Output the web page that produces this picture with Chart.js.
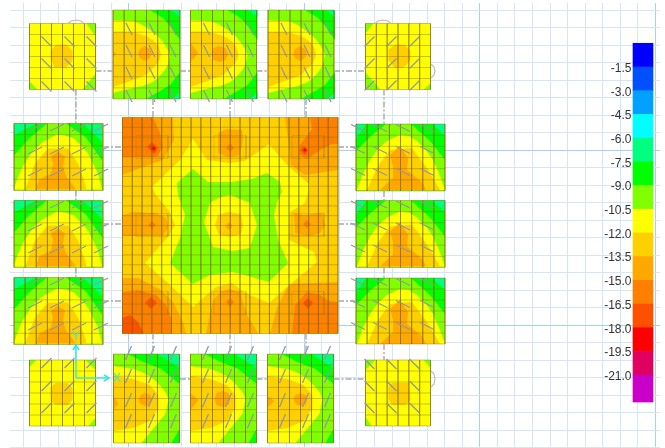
<!DOCTYPE html>
<html>
<head>
<meta charset="utf-8">
<title>Slab contour</title>
<script src="https://cdn.jsdelivr.net/npm/chart.js@4"></script>
<style>
  html, body { margin: 0; background: #fff; }
  #wrap { width: 665px; height: 448px; }
  canvas { filter: blur(0.4px); }
</style>
</head>
<body>
<div id="wrap"><canvas id="c"></canvas></div>
<script>
// legend
const levels = [-1.5, -3, -4.5, -6, -7.5, -9, -10.5, -12, -13.5, -15, -16.5, -18, -19.5, -21];
const bandEdges = [0, -1.5, -3, -4.5, -6, -7.5, -9, -10.5, -12, -13.5, -15, -16.5, -18, -19.5, -21, -22.7];
const bandColors = ['#0000ff', '#0050ff', '#00a0ff', '#00ffff', '#00ff80', '#00ff00', '#80ff00', '#ffff00',
  '#ffd000', '#ffa800', '#ff8000', '#ff5000', '#ff0000', '#e00060', '#c800c8'];

// contour values (middle of a band)
const CY = -6.75, GR = -8.25, LI = -9.75, YE = -11.25, GO = -12.75, AM = -14.25, OR = -15.75, RO = -17.25, RE = -18.75;

// slab strips along the top, outlines local to the panel corner
const topLayers = [
  [GR, [[37,0],[50,8],[58,17],[67,30],[67,0]]],
  [GR, [[67,62],[57,75],[47,81],[33,89],[67,89]]],
  [CY, [[58,0],[67,0],[67,7]]],
  [CY, [[60,89],[67,89],[67,82]]],
  [YE, [[0,10],[20,11],[28,14],[37,20],[44,25],[50,32],[54,38],[57,45],[55,54],[52,60],[46,67],[40,72],[30,76],[20,78],[0,83]]],
  [GO, [[0,22],[20,22],[33,26],[41,31],[46,37],[48,45],[46,51],[43,55],[33,65],[20,70],[0,77]]]
];
const topPanels = [
  { at: [113, 10], size: [67, 89], spots: [[AM, [[27,39],[32,36],[37,39],[39,44],[36,49],[32,51],[27,48],[25,44]]], [AM, [[0,41],[3,44],[0,47]]]] },
  { at: [190.5, 10], size: [66, 89], spots: [[AM, [[23,38],[29,36],[35,38],[38,44],[35,50],[29,52],[23,50],[21,44]]], [AM, [[0,33],[8,43],[0,52]]]] },
  { at: [268, 10], size: [66, 89], spots: [[AM, [[27,39],[32,36],[37,39],[39,44],[36,49],[32,51],[27,48],[25,44]]]] }
];

const bottomLayers = [
  [GR, [[14,0],[30,8],[48,15],[66,30],[66,0]]],
  [GR, [[58,89],[66,89],[66,75]]],
  [CY, [[44,0],[66,0],[66,14]]],
  [YE, [[0,12],[20,15],[28,18],[36,22],[42,27],[48,33],[52,38],[55,45],[52,60],[42,72],[28,89],[0,89]]],
  [GO, [[0,22],[20,25],[36,31],[45,41],[45,54],[36,67],[20,74],[0,77]]]
];
const bottomPanels = [
  { at: [113.5, 354], size: [66, 89], spots: [[AM, [[27,41],[32,39],[37,41],[39,46],[36,51],[32,52],[27,50],[25,46]]], [AM, [[0,42],[5,50],[0,55]]]] },
  { at: [190.5, 354], size: [66, 89], spots: [[AM, [[26,39],[32,37],[38,39],[40,45],[38,51],[32,53],[26,51],[24,45]]], [AM, [[0,39],[8,46],[0,56]]]] },
  { at: [267.5, 354], size: [66, 89], spots: [[AM, [[28,41],[33,39],[38,41],[40,45],[38,51],[33,52],[28,50],[26,45]]], [AM, [[0,42],[7,47],[0,54]]]] }
];

const leftLayers = [
  [GR, [[0,0],[33,0],[15,15],[0,32]]],
  [GR, [[52,0],[72,14],[88,37],[88,0]]],
  [CY, [[0,0],[22,0],[0,12]]],
  [CY, [[70,1],[88,1],[88,18]]],
  [YE, [[0,66],[3,56],[8,44],[15,33],[22,24],[30,18],[43,11],[51,12],[60,15],[67,22],[74,30],[79,40],[84,50],[88,66]]],
  [GO, [[11,66],[21,40],[34,25],[54,25],[64,40],[72,63],[72,66]]],
  [AM, [[22,66],[25,56],[37,50],[39,40],[37,33],[44,28],[51,33],[49,43],[52,53],[62,66]]]
];
const leftPanels = [
  { at: [14, 123.5], size: [89, 67], spots: [] },
  { at: [14, 200.5], size: [89, 67], spots: [] },
  { at: [14, 277.5], size: [89, 67], spots: [] }
];

const rightLayers = [
  [GR, [[0,0],[30,0],[15,12],[0,27]]],
  [GR, [[55,0],[74,17],[89,36],[89,0]]],
  [CY, [[0,0],[10,0],[0,15]]],
  [CY, [[76,0],[89,0],[89,12]]],
  [YE, [[1,66],[7,50],[14,36],[22,25],[31,17],[44,11],[53,12],[61,17],[70,26],[77,36],[84,52],[89,66]]],
  [GO, [[11,66],[22,42],[34,26],[56,24],[71,44],[84,66]]],
  [AM, [[24,66],[37,54],[37,42],[34,31],[44,22],[52,34],[51,46],[67,59],[70,66]]]
];
const rightPanels = [
  { at: [356, 124], size: [89, 67], spots: [] },
  { at: [356, 200.5], size: [89, 67], spots: [] },
  { at: [356, 278], size: [89, 66], spots: [] }
];

// corner panels are yellow with a small bump and lime corners
const cornerPanels = [
  { at: [29.5, 23.5], size: [66, 66], spots: [[LI, [[57,0],[66,0],[66,13]]], [LI, [[53,66],[66,66],[66,50]]], [LI, [[0,58],[8,66],[0,66]]],
    [GO, [[21,27],[27,21],[37,21],[43,27],[43,38],[36,44],[25,44],[21,35]]]] },
  { at: [365.5, 23.5], size: [65, 66], spots: [[LI, [[0,0],[8,0],[0,10]]], [LI, [[0,49],[15,66],[0,66]]], [LI, [[58,66],[65,60],[65,66]]],
    [GO, [[23,26],[30,21],[39,21],[45,27],[45,37],[38,44],[29,44],[23,37]]]] },
  { at: [29.5, 360], size: [66, 66], spots: [[LI, [[0,0],[7,0],[0,7]]], [LI, [[56,0],[66,0],[66,10]]], [LI, [[59,66],[66,58],[66,66]]],
    [GO, [[21,28],[26,23],[38,23],[43,28],[43,40],[38,45],[26,45],[21,40]]]] },
  { at: [365.5, 360], size: [65, 66], spots: [[LI, [[0,0],[10,0],[0,10]]], [LI, [[58,0],[65,0],[65,8]]], [LI, [[0,57],[6,66],[0,66]]],
    [GO, [[23,26],[27,23],[44,23],[45,40],[40,45],[27,45],[23,40]]]] }
];

// big central slab, in plan coordinates
const slabBox = [122.5, 117.5, 215.5, 216];
const slabLayers = [
  [AM, [[172.7,117.5],[174,140],[163,160],[143,167],[122.5,175],[122.5,117.5]]],
  [OR, [[153,117.5],[160,133],[163,147],[157,157],[122.5,157],[122.5,117.5]]],
  [RO, [[147,147],[152,142],[158,148],[154,154]]],
  [RE, [[151,148],[153,146],[156,148],[154,151]]],
  [AM, [[285,117.5],[289,145],[291,165],[305,175],[338,170],[338,117.5]]],
  [OR, [[310,117.5],[312,129],[300,145],[299,154],[307,159],[322,149],[332,144],[338,144],[338,117.5]]],
  [RO, [[300,150],[304,146],[308,150],[305,155]]],
  [RE, [[303,150],[305,148],[307,150],[305,152]]],
  [AM, [[218,133],[227,129],[242,130],[243,140],[240,155],[228,157],[218,153]]],
  [OR, [[226,148],[230,143],[234,148],[230,152]]],
  [AM, [[122.5,215],[133,212],[156,213],[166,218],[168,228],[163,235],[138,236],[122.5,236]]],
  [OR, [[148,225],[152,221],[156,225],[152,229]]],
  [AM, [[294,213],[304,215],[322,213],[325,225],[320,233],[309,236],[295,233]]],
  [OR, [[303,224],[307,220],[311,224],[307,228]]],
  [AM, [[122.5,278],[138,278],[161,290],[173,302],[183,322],[186,333.5],[122.5,333.5]]],
  [OR, [[122.5,292],[138,290],[156,295],[166,305],[172,320],[172,333.5],[122.5,333.5]]],
  [RO, [[122.5,318],[130,315],[138,322],[144,333.5],[122.5,333.5]]],
  [RO, [[145,303],[151,297],[157,303],[151,309]]],
  [AM, [[206,333.5],[213,300],[222,291],[230,289],[240,292],[247,315],[258,333.5]]],
  [OR, [[226,302],[230,298],[234,302],[230,307]]],
  [AM, [[270,333.5],[277,308],[289,284],[338,282],[338,333.5]]],
  [OR, [[292,333.5],[295,305],[307,292],[320,295],[329,301],[338,302],[338,333.5]]],
  [RO, [[303,303],[308,298],[313,303],[308,309]]],
  [YE, [[193,139],[207,160],[230,163],[245,161],[269,144],[287,165],[310,185],[305,203],[290,212],[289,228],[289,240],[314,252],[317,262],[292,283],[269,303],[245,293],[232,283],[216,287],[193,307],[168,283],[145,263],[168,237],[175,225],[170,212],[156,195],[152,187],[180,160]]],
  [LI, [[193,169],[208,182],[232,182],[252,179],[267,173],[280,182],[282,192],[277,202],[274,215],[278,240],[288,263],[269,282],[245,275],[232,272],[210,275],[193,284],[170,263],[180,238],[185,215],[178,195],[177,183]]],
  [YE, [[204,222],[210,203],[218,198],[230,195],[250,203],[257,225],[250,248],[233,251],[213,247]]],
  [GO, [[215,225],[218,215],[228,212],[241,214],[243,225],[241,234],[230,237],[219,235]]],
  [AM, [[225,226],[229,222],[233,226],[229,230]]]
];

// faint drop panel outlines around the slab columns
const dropCentres = [[152,147],[230,147],[308,147],[152,225],[308,225],[152,303],[230,303],[308,303]];
const dropHalf = [16, 11.5];

// strip marks: local centres and half vector of each tick
const stripSets = [
  { panels: topPanels, xs: [16, 39, 60], ys: [19, 41, 63, 86], half: [3, 6] },
  { panels: bottomPanels, xs: [15, 38, 60], ys: [-1, 22, 46, 67], half: [3, -7] },
  { panels: leftPanels, xs: [21, 43, 65, 87], ys: [4, 27, 49], half: [7, -3.5] },
  { panels: rightPanels, xs: [2, 24, 47, 71], ys: [4, 26, 48], half: [7, 3.5] },
  { panels: [cornerPanels[0]], xs: [17, 40, 62], ys: [18, 40, 63], half: [5, 5] },
  { panels: [cornerPanels[1]], xs: [4, 26, 49], ys: [18, 40, 62], half: [5, -5] },
  { panels: [cornerPanels[2]], xs: [17, 40, 62], ys: [3, 26, 48], half: [5, -5] },
  { panels: [cornerPanels[3]], xs: [4, 26, 49], ys: [4, 26, 48], half: [5, 5] }
];

// beams between panels
const beams = [
  [[95.5,71],[113,71]], [[180,71],[190.5,71]], [[256.5,71],[268,71]], [[334,71],[365.5,71]],
  [[76,89.5],[76,123.5]], [[76,190.5],[76,200.5]], [[76,267.5],[76,277.5]],
  [[153,99],[153,117.5]], [[230,99],[230,117.5]], [[306,99],[306,117.5]],
  [[153,333.5],[153,354]], [[230,333.5],[230,354]], [[306,333.5],[306,354]],
  [[103,147],[122.5,147]], [[103,224],[122.5,224]], [[103,301],[122.5,301]],
  [[338,147],[356,147]], [[338,224],[356,224]], [[338,301],[356,301]],
  [[180,379],[190.5,379]], [[256.5,379],[267.5,379]], [[333.5,379],[365.5,379]],
  [[384,89.5],[384,124]], [[384,191],[384,200.5]], [[384,267.5],[384,278]], [[384,344],[384,360]]
];

// small arcs at the corner columns
const arcs = [
  [[68,23.5],[71,21],[76,20],[81,21],[84,23.5]],
  [[375,23.5],[378,21],[383,20],[388,21],[391,23.5]],
  [[431,64],[434,67],[435,71],[434,75],[431,78]],
  [[431,371],[434,374],[435,379],[434,384],[431,387]]
];

const axisX = [[76,378],[108,378]];
const axisY = [[76,378],[76,346]];
const arrowX = [[104,375],[109,378],[104,381]];
const arrowY = [[73,350],[76,345],[79,350]];

function colorFor(v) {
  for (let i = 0; i < bandColors.length; i++) {
    if (v <= bandEdges[i] && v > bandEdges[i + 1]) return bandColors[i];
  }
  return '#fff';
}

function toPts(list, ox, oy) {
  return list.map(function(p) { return { x: p[0] + (ox || 0), y: p[1] + (oy || 0) }; });
}

let sets = [];
const meshColor = 'rgba(125,105,0,0.4)';
const dropColor = 'rgba(125,105,0,0.18)';

function addFill(list, value, ox, oy) {
  let pts = toPts(list, ox, oy);
  pts.push(pts[0]);
  sets.push({ type: 'scatter', data: pts, showLine: true, fill: 'shape', backgroundColor: colorFor(value),
    borderWidth: 0, borderColor: 'transparent', pointRadius: 0, tension: 0 });
}

function addLine(pts, color, width, dash) {
  sets.push({ type: 'scatter', data: pts, showLine: true, fill: false, borderColor: color, borderWidth: width,
    borderDash: dash || [], pointRadius: 0, tension: 0, spanGaps: false });
}

function addPanel(p, layers, baseValue) {
  const w = p.size[0], h = p.size[1];
  addFill([[0,0],[w,0],[w,h],[0,h]], baseValue, p.at[0], p.at[1]);
  layers.concat(p.spots).forEach(function(l) { addFill(l[1], l[0], p.at[0], p.at[1]); });
}

topPanels.forEach(function(p) { addPanel(p, topLayers, LI); });
bottomPanels.forEach(function(p) { addPanel(p, bottomLayers, LI); });
leftPanels.forEach(function(p) { addPanel(p, leftLayers, LI); });
rightPanels.forEach(function(p) { addPanel(p, rightLayers, LI); });
cornerPanels.forEach(function(p) { addPanel(p, [], YE); });
addFill([[0,0],[slabBox[2],0],[slabBox[2],slabBox[3]],[0,slabBox[3]]], GO, slabBox[0], slabBox[1]);
slabLayers.forEach(function(l) { addFill(l[1], l[0]); });

// element mesh
function addMesh(x, y, w, h, cols, rows) {
  let pts = [];
  for (let i = 0; i <= cols; i++) {
    pts.push({ x: x + w * i / cols, y: y }, { x: x + w * i / cols, y: y + h }, { x: null, y: null });
  }
  for (let j = 0; j <= rows; j++) {
    pts.push({ x: x, y: y + h * j / rows }, { x: x + w, y: y + h * j / rows }, { x: null, y: null });
  }
  addLine(pts, meshColor, 1);
}
topPanels.concat(bottomPanels).forEach(function(p) { addMesh(p.at[0], p.at[1], p.size[0], p.size[1], 6, 8); });
leftPanels.concat(rightPanels).forEach(function(p) { addMesh(p.at[0], p.at[1], p.size[0], p.size[1], 8, 6); });
cornerPanels.forEach(function(p) { addMesh(p.at[0], p.at[1], p.size[0], p.size[1], 6, 6); });
addMesh(slabBox[0], slabBox[1], slabBox[2], slabBox[3], 22, 22);
dropCentres.forEach(function(c) {
  addLine(toPts([[c[0] - dropHalf[0], c[1] - dropHalf[1]], [c[0] + dropHalf[0], c[1] - dropHalf[1]],
    [c[0] + dropHalf[0], c[1] + dropHalf[1]], [c[0] - dropHalf[0], c[1] + dropHalf[1]], [c[0] - dropHalf[0], c[1] - dropHalf[1]]]), dropColor, 1);
});

stripSets.forEach(function(s) {
  let pts = [];
  s.panels.forEach(function(p) {
    s.xs.forEach(function(x) {
      s.ys.forEach(function(y) {
        pts.push({ x: p.at[0] + x - s.half[0], y: p.at[1] + y - s.half[1] },
          { x: p.at[0] + x + s.half[0], y: p.at[1] + y + s.half[1] }, { x: null, y: null });
      });
    });
  });
  addLine(pts, '#8f98a8', 1.3);
});

beams.forEach(function(b) { addLine(toPts(b), '#a8a8a8', 1.4, [6, 2, 2, 2]); });
arcs.forEach(function(a) { addLine(toPts(a), '#bdbdbd', 1.2); });
[axisX, axisY, arrowX, arrowY].forEach(function(a) { addLine(toPts(a), '#35e6ea', 1.5); });

// colour bar
bandColors.forEach(function(col, i) {
  sets.push({ type: 'bar', data: [{ x: 643, y: [bandEdges[i + 1], bandEdges[i]] }], backgroundColor: col,
    barThickness: 20, grouped: false, borderWidth: 0, xAxisID: 'x', yAxisID: 'yBar' });
});

sets.forEach(function(s, i) { s.order = sets.length - i; });

const gridX = [], gridY = [];
for (let i = 0; i <= 36; i++) gridX.push(23.3 + i * 17.56);
for (let j = 0; j <= 25; j++) gridY.push(10 + j * 17.5);

const axisLetters = {
  id: 'axisLetters',
  afterDatasetsDraw: function(chart) {
    const ctx = chart.ctx, sx = chart.scales.x, sy = chart.scales.y;
    ctx.save();
    ctx.fillStyle = '#35e6ea';
    ctx.font = '12px "Liberation Sans"';
    ctx.textAlign = 'center';
    ctx.textBaseline = 'middle';
    ctx.fillText('X', sx.getPixelForValue(117), sy.getPixelForValue(379));
    ctx.fillText('Y', sx.getPixelForValue(76), sy.getPixelForValue(337));
    ctx.restore();
  }
};

// the axes must not eat into the plot area, plan units stay 1:1 with the window
function noRoom(s) {
  s.paddingTop = s.paddingBottom = s.paddingLeft = s.paddingRight = 0;
  if (s.axis == 'x') s.height = 0; else s.width = 0;
}

new Chart(document.getElementById('c'), {
  type: 'scatter',
  data: { datasets: sets },
  plugins: [axisLetters],
  options: {
    responsive: true,
    maintainAspectRatio: false,
    animation: false,
    events: [],
    layout: { padding: { left: 10, top: 3, right: 5, bottom: 0 } },
    plugins: { legend: { display: false }, tooltip: { enabled: false } },
    scales: {
      x: {
        type: 'linear', min: 10, max: 660, offset: false,
        afterBuildTicks: function(a) { a.ticks = gridX.map(function(v) { return { value: v }; }); },
        afterFit: noRoom,
        ticks: { display: false },
        border: { display: false },
        grid: { offset: false, drawTicks: false, color: function(c) { return c.index % 10 == 6 ? '#a9d0f3' : '#d3e5f8'; } }
      },
      y: {
        type: 'linear', reverse: true, min: 3, max: 448,
        afterBuildTicks: function(a) { a.ticks = gridY.map(function(v) { return { value: v }; }); },
        afterFit: noRoom,
        ticks: { display: false },
        border: { display: false },
        grid: { drawTicks: false, color: function(c) { return c.index % 10 == 8 ? '#a9d0f3' : '#d3e5f8'; } }
      },
      yBar: {
        type: 'linear', position: { x: 631.5 }, min: -25.61, max: 2.55,
        afterBuildTicks: function(a) { a.ticks = levels.map(function(v) { return { value: v }; }); },
        afterFit: noRoom,
        border: { display: false },
        grid: { display: false },
        ticks: {
          autoSkip: false, color: '#333', padding: 0, labelOffset: 1.5,
          font: { family: '"Liberation Sans"', size: 12 },
          callback: function(v) { return v.toFixed(1); }
        }
      }
    }
  }
});
</script>
</body>
</html>
